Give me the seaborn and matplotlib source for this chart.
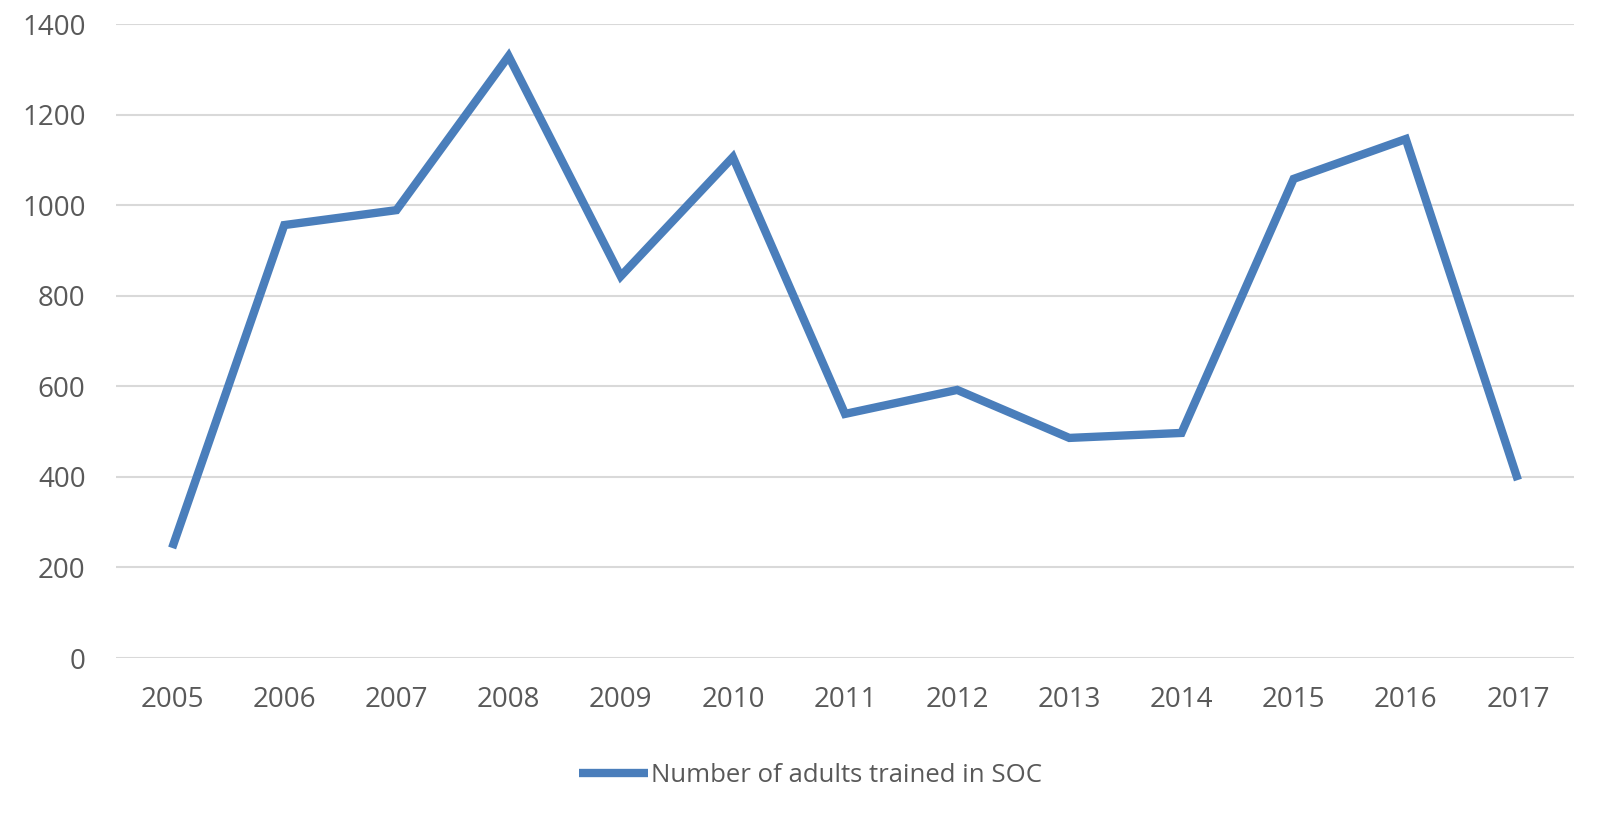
import numpy as np
import pandas as pd
import seaborn as sns
import matplotlib.pyplot as plt

# Data
years = ["2005", "2006", "2007", "2008", "2009", "2010", "2011",
         "2012", "2013", "2014", "2015", "2016", "2017"]
adults_trained = [243, 956, 989, 1329, 843, 1106, 539,
                  592, 486, 497, 1058, 1146, 393]
series_label = "Number of adults trained in SOC"

df = pd.DataFrame({"year": years, "adults": adults_trained})

sns.set_theme(style="white")
plt.rcParams["font.family"] = ["Open Sans", "DejaVu Sans"]

fig = plt.figure(figsize=(16.21, 8.22), dpi=100)
ax = fig.add_axes([0.0716, 0.1995, 0.8994, 0.7713])

sns.lineplot(data=df, x="year", y="adults", ax=ax, color="#4a7ebb",
             linewidth=6, label=series_label, sort=False,
             solid_joinstyle="miter", solid_capstyle="butt")

ax.set_xlim(-0.5, len(years) - 0.5)
ax.set_ylim(0, 1400)
ax.set_yticks(np.arange(0, 1401, 200))
ax.yaxis.grid(True, color="#d9d9d9", linewidth=1.5)
ax.set_axisbelow(True)
for s in ax.spines.values():
    s.set_visible(False)
ax.tick_params(axis="both", length=0, labelsize=20, labelcolor="#595959")
ax.tick_params(axis="y", pad=22)
ax.tick_params(axis="x", pad=20)
ax.set_xlabel("")
ax.set_ylabel("")

ax.legend(loc="center", bbox_to_anchor=(0.5, 0.057), bbox_transform=fig.transFigure,
          frameon=False, fontsize=18.5, handlelength=2.7, handletextpad=0.1,
          labelcolor="#595959")

fig.savefig("out.png", dpi=100)
plt.close(fig)
